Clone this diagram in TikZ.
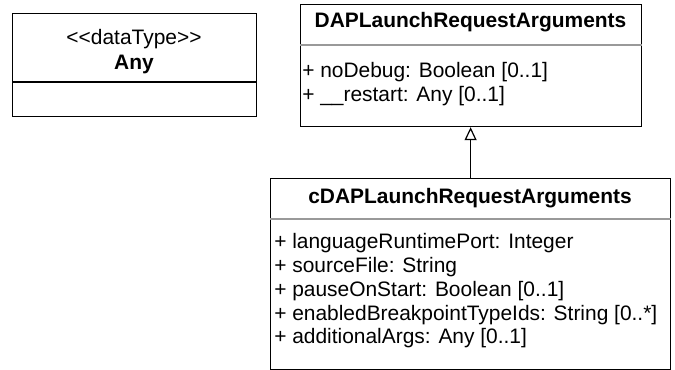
\documentclass[tikz,border=0pt]{standalone}
\usepackage{fontspec}
\setmainfont{Liberation Sans}
\usetikzlibrary{arrows.meta}
\begin{document}
\begin{tikzpicture}[x=0.75pt,y=-0.75pt,
  umlbox/.style={draw, line width=0.9pt, inner sep=0pt, anchor=north west},
  divline/.style={draw=black!40, line width=0.9pt},
  anydiv/.style={draw=black, line width=0.9pt},
  txt/.style={inner sep=0pt, font=\fontsize{15.7}{18}\selectfont},
  ttl/.style={inner sep=0pt, font=\fontsize{15.7}{18}\selectfont\bfseries, anchor=base},
  attr/.style={txt, anchor=base west},
  gen/.style={line width=0.9pt, -{Triangle[open, length=13*0.75pt, width=12*0.75pt]}}]
\useasboundingbox (0,0) rectangle (675,370);
% boxes
\node[umlbox, minimum width=244*0.75pt, minimum height=103*0.75pt] (any) at (12,13) {};
\node[umlbox, minimum width=341*0.75pt, minimum height=122*0.75pt] (dap) at (300,4) {};
\node[umlbox, minimum width=400*0.75pt, minimum height=191*0.75pt] (cdap) at (270,178) {};
% dividers
\draw[anydiv] (any.west |- 0,82) -- (any.east |- 0,82);
\draw[divline] (dap.west |- 0,45) -- (dap.east |- 0,45);
\draw[divline] (cdap.west |- 0,219) -- (cdap.east |- 0,219);
% Any
\node[txt, anchor=base] (anyst) at (134,45) {<\kern0pt<dataType>\kern0pt>};
\node[ttl] (anyname) at (134,70) {Any};
% DAP
\node[ttl] (dapname) at (470.5,28) {DAPLaunchRequestArguments};
\node[attr] (dapa1) at (302,78) {+ noDebug: Boolean [0..1]};
\node[attr] (dapa2) at (302,102) {+ \_\_restart: Any [0..1]};
% cDAP
\node[ttl] (cdapname) at (470,204) {cDAPLaunchRequestArguments};
\node[attr] (c1) at (274,249) {+ languageRuntimePort: Integer};
\node[attr] (c2) at (274,272.75) {+ sourceFile: String};
\node[attr] (c3) at (274,296.5) {+ pauseOnStart: Boolean [0..1]};
\node[attr] (c4) at (274,320.25) {+ enabledBreakpointTypeIds: String [0..*]};
\node[attr] (c5) at (274,344) {+ additionalArgs: Any [0..1]};
% generalization
\draw[gen] (cdap.north) -- (cdap.north |- dap.south);
\end{tikzpicture}
\end{document}
